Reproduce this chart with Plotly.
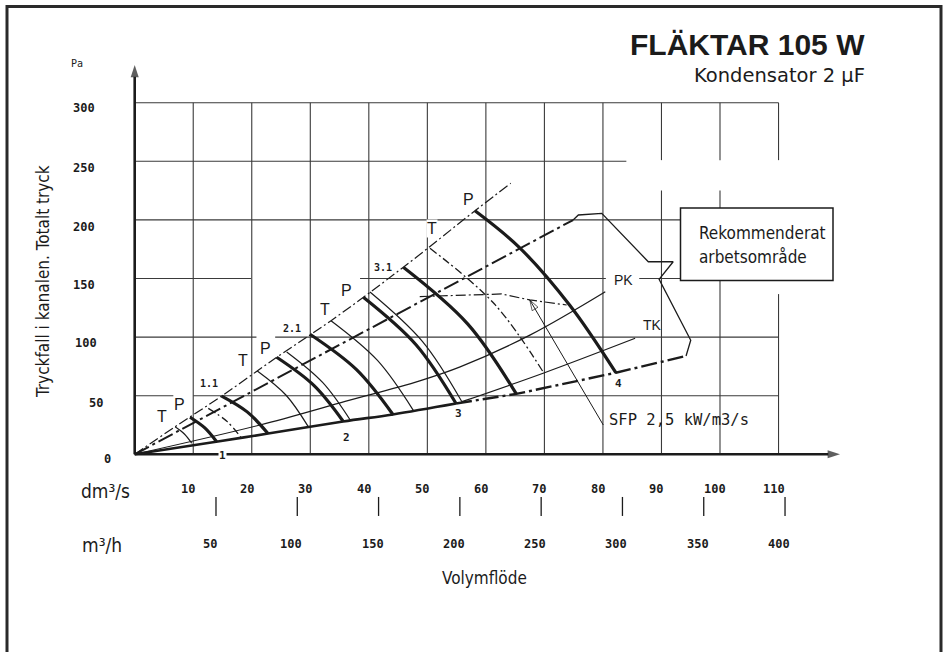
import plotly.graph_objects as go

# ---------------- data (x: dm3/s, y: Pa) ----------------
top_x = [0, 6.9, 14.86, 24.26, 33.54, 45.9, 58.14, 64.24]
top_y = [0, 23.5, 49.7, 82.8, 114.0, 159.6, 207.8, 231.2]

mid_x = [0, 74.9]
mid_y = [0, 199.9]

region_x = [74.9, 75.8, 79.8, 87.75, 92.0, 89.6, 95.0, 94.2]
region_y = [199.9, 204.2, 205.6, 164.3, 164.3, 149.3, 97.3, 83.9]

bottom_solid_x = [0, 14.2, 22.8, 35.6, 44.1, 54.9]
bottom_solid_y = [0, 10.9, 17.7, 28.0, 34.0, 43.3]
bottom_dash_x = [54.9, 65.2, 82.2, 94.2]
bottom_dash_y = [43.3, 51.5, 69.6, 83.9]

pk_x = [0, 21.4, 35.1, 48.7, 55.6, 67.6, 80.4]
pk_y = [0, 25.0, 43.9, 62.7, 74.6, 101.9, 138.7]
tk_x = [55.9, 69.9, 85.5]
tk_y = [44.9, 69.4, 99.0]

sfp_x = [48.7, 60.7, 62.7, 67.5, 73.8]
sfp_y = [134.6, 136.8, 136.8, 131.7, 127.4]
sfp_pointer_x = [80.06, 67.5]
sfp_pointer_y = [25.0, 131.7]

fan_names = ["T1", "P1", "T1.1", "P1.1", "T2", "P2", "T2.1", "P2.1",
             "T3", "P3", "T3.1", "P3.1", "T4", "P4"]
fan_x = [
    [6.9, 8.49, 9.74],
    [9.45, 11.98, 14.0],
    [12.57, 15.74, 18.28],
    [14.86, 19.22, 22.77],
    [20.95, 25.83, 29.6],
    [24.26, 30.61, 35.64],
    [25.97, 32.14, 36.9],
    [29.95, 37.9, 44.18],
    [33.54, 41.48, 47.6],
    [39.06, 48.06, 54.9],
    [40.2, 49.15, 55.9],
    [45.9, 56.88, 65.2],
    [50.45, 61.47, 69.9],
    [58.14, 65.7, 74.4, 82.2],
]
fan_y = [
    [23.5, 17.3, 9.4],
    [31.6, 22.5, 10.75],
    [39.2, 28.2, 13.65],
    [49.7, 36.2, 17.7],
    [71.1, 50.6, 24.0],
    [82.8, 58.8, 28.0],
    [87.3, 61.1, 28.6],
    [102.4, 72.2, 33.5],
    [114.0, 80.1, 37.5],
    [134.0, 93.5, 43.3],
    [138.5, 96.4, 44.9],
    [159.6, 111.3, 51.5],
    [175.8, 128.2, 69.4],
    [207.8, 176.6, 126.7, 69.6],
]
dashdot_curves = ["T1.1", "T4"]

grid_x_vals = [10, 20, 30, 40, 50, 60, 70, 80, 90, 100, 110]
grid_y_vals = [50, 100, 150, 200, 250, 300]
y_tick_labels = ["300", "250", "200", "150", "100", "50", "0"]
dm3s_ticks = [10, 20, 30, 40, 50, 60, 70, 80, 90, 100, 110]
m3h_ticks = [50, 100, 150, 200, 250, 300, 350, 400]

# ---------------- geometry (pixel mapping) ----------------
W, H = 947, 652
X0PX, XS = 134.7, 5.853
Y0PX, YS = 454.3, 1.172
x_range = [(0 - X0PX) / XS, (W - X0PX) / XS]
y_range = [(Y0PX - H) / YS, Y0PX / YS]
INK = "#1b1b1b"
GRID = "#3a3a3a"


def px(x):
    return x / W


def py(y):
    return 1 - y / H


fig = go.Figure()


def line(x, y, width=1.2, dash="solid", color=INK, shape="linear", marker=None):
    kw = dict(x=x, y=y, mode="lines", hoverinfo="skip",
              line=dict(color=color, width=width, dash=dash, shape=shape))
    if marker:
        kw["mode"] = "lines+markers"
        kw["marker"] = marker
    fig.add_trace(go.Scatter(**kw))


# grid with the gaps of the original drawing
v_gaps = {90: (225, 251), 100: (225, 251), 110: (136.7, 251)}
h_segments = {300: [(0, 110)], 250: [(0, 84)], 200: [(0, 93.3)],
              150: [(0, 19.9), (38.5, 80.5), (86.2, 93.3)],
              100: [(0, 20.8), (24.0, 110)], 50: [(0, 6.6), (10.0, 110)]}
gx, gy = [], []
for v in grid_x_vals:
    if v in v_gaps:
        a, b = v_gaps[v]
        gx += [v, v, None, v, v, None]
        gy += [0, a, None, b, 300, None]
    else:
        gx += [v, v, None]
        gy += [0, 300, None]
for v in grid_y_vals:
    for a, b in h_segments[v]:
        gx += [a, b, None]
        gy += [v, v, None]
line(gx, gy, width=1.1, color=GRID)

# axes with arrow heads
arrow = dict(symbol="arrow", angleref="previous", size=[0, 13], color=INK,
             line=dict(width=0))
line([0, 0], [0, (Y0PX - 65) / YS], width=2.6, marker=arrow)
line([0, (840 - X0PX) / XS], [0, 0], width=2.6, marker=arrow)

# system / boundary lines
line(top_x, top_y, width=1.2, dash="10px,3px,2px,3px", shape="spline")
line(mid_x, mid_y, width=2.0, dash="16px,4px,3px,4px")
line(region_x, region_y, width=1.3)
line(bottom_solid_x, bottom_solid_y, width=2.6, shape="spline")
line(bottom_dash_x, bottom_dash_y, width=2.4, dash="16px,4px,3px,4px")
line(pk_x, pk_y, width=1.2, shape="spline")
line(tk_x, tk_y, width=1.2, shape="spline")
line(sfp_x, sfp_y, width=1.2, dash="10px,3px,2px,3px")
line(sfp_pointer_x, sfp_pointer_y, width=1.0,
     marker=dict(symbol="arrow-open", angleref="previous", size=[0, 11], color=INK,
                 line=dict(width=1, color=INK)))

# fan curves
for name, xs, ys in zip(fan_names, fan_x, fan_y):
    if name.startswith("P"):
        line(xs, ys, width=3.2, shape="spline")
    elif name in dashdot_curves:
        line(xs, ys, width=1.3, dash="8px,3px,2px,3px", shape="spline")
    else:
        line(xs, ys, width=1.2, shape="spline")

# m3/h tick marks (on dm3/s scale)
tx, ty = [], []
for m in m3h_ticks:
    tx += [m / 3.6, m / 3.6, None]
    ty += [-36.4, -52.6, None]
line(tx, ty, width=1.3)

ann = []
MONO = "DejaVu Sans Mono"
NARROW = "Liberation Sans Narrow, DejaVu Sans Condensed, Roboto, sans-serif"
SANS = "Liberation Sans, Arial, sans-serif"


def text(t, x, y, size, family=SANS, color=INK, xanchor="center", bg=None, **kw):
    d = dict(text=t, x=px(x), y=py(y), xref="paper", yref="paper", showarrow=False,
             xanchor=xanchor, yanchor="middle",
             font=dict(size=size, family=family, color=color))
    if bg:
        d["bgcolor"] = bg
        d["borderpad"] = 0
    d.update(kw)
    ann.append(d)


# y tick labels
y_label_right = [97, 97, 97, 97, 99, 105, 113]
y_label_ypx = [107.7, 168.3, 226.7, 285, 342.7, 403.3, 459]
for t, xr, yy in zip(y_tick_labels, y_label_right, y_label_ypx):
    text("<b>%s</b>" % t, xr, yy, 12, family=MONO, xanchor="right")
text("Pa", 77, 63, 10, family=MONO)

# x tick labels
for v in dm3s_ticks:
    ann.append(dict(text="<b>%d</b>" % v, x=v, y=py(489), xref="x", yref="paper",
                    xshift=-5, showarrow=False, xanchor="center", yanchor="middle",
                    font=dict(size=12, family=MONO, color=INK)))
for m in m3h_ticks:
    ann.append(dict(text="<b>%d</b>" % m, x=m / 3.6, y=py(544), xref="x", yref="paper",
                    xshift=-6, showarrow=False, xanchor="center", yanchor="middle",
                    font=dict(size=12, family=MONO, color=INK)))

text("dm³/s", 105, 491, 19, family=NARROW)
text("m³/h", 102, 545, 19, family=NARROW)
text("Volymflöde", 484, 578, 17, family=NARROW)
text("Tryckfall i kanalen. Totalt tryck", 43, 282, 17, family=NARROW, textangle=-90)

# title
text("<b>FLÄKTAR 105 W</b>", 867, 44, 30, family=SANS, xanchor="right")
text("Kondensator 2 µF", 867, 75, 19.5, family="DejaVu Sans", xanchor="right")

# curve labels
for t, x, y in [("T", 161.7, 416.7), ("P", 179.3, 404), ("T", 243.3, 360), ("P", 265, 348.3),
                ("T", 325, 310), ("P", 346, 290), ("P", 468.3, 199)]:
    text(t, x, y, 16)
text("T", 431.7, 228.3, 16, bg="white")
for t, x, y in [("1.1", 209, 383.3), ("2.1", 292, 328), ("3.1", 383.3, 267)]:
    text("<b>%s</b>" % t, x, y, 10, family=MONO)
for t, x, y in [("2", 346, 437), ("3", 458, 413), ("4", 618, 383)]:
    text("<b>%s</b>" % t, x, y, 11, family=MONO)
text("<b>1</b>", 222, 455, 11, family=MONO, bg="white")
text("PK", 623, 279.5, 14, bg="white")
text("TK", 652, 325, 14)
text("SFP 2,5 kW/m3/s", 607, 419.5, 15.5, family=MONO, xanchor="left")

# recommended area box
text("Rekommenderat", 697, 233, 17, family=NARROW, xanchor="left")
text("arbetsområde", 697, 257, 17, family=NARROW, xanchor="left")

shapes = [
    dict(type="rect", xref="paper", yref="paper", x0=px(680.5), x1=px(833), y0=py(280.5),
         y1=py(208), line=dict(color=INK, width=1.5), fillcolor="white", layer="above"),
    dict(type="path", xref="paper", yref="paper",
         path="M %f %f L %f %f L %f %f L %f %f" % (px(7), py(H + 5), px(7), py(6.5),
                                                   px(941), py(6.5), px(941), py(H + 5)),
         line=dict(color="#2a2a2a", width=3)),
]

fig.update_layout(
    width=W, height=H, margin=dict(l=0, r=0, t=0, b=0),
    paper_bgcolor="white", plot_bgcolor="white", showlegend=False,
    xaxis=dict(range=x_range, visible=False, fixedrange=True),
    yaxis=dict(range=y_range, visible=False, fixedrange=True),
    annotations=ann, shapes=shapes,
)
fig.write_html("out.html", config={"displayModeBar": False, "staticPlot": True},
               post_script="document.body.style.margin='0';")
